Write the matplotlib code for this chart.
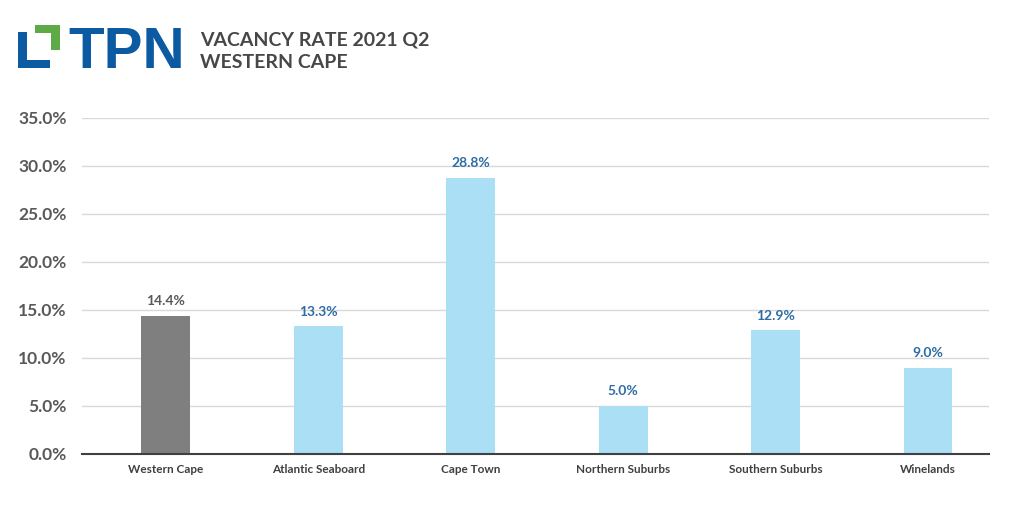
import matplotlib.pyplot as plt
from matplotlib.patches import Rectangle
import numpy as np

categories = ['Western Cape', 'Atlantic Seaboard', 'Cape Town',
              'Northern Suburbs', 'Southern Suburbs', 'Winelands']
values = [14.4, 13.3, 28.8, 5.0, 12.9, 9.0]
bar_colors = ['#7F7F7F', '#AADFF6', '#AADFF6', '#AADFF6', '#AADFF6', '#AADFF6']
label_colors = ['#595959', '#2E6CA4', '#2E6CA4', '#2E6CA4', '#2E6CA4', '#2E6CA4']
yticks = [0, 5, 10, 15, 20, 25, 30, 35]

plt.rcParams['font.family'] = ['Lato', 'DejaVu Sans']

fig = plt.figure(figsize=(10.24, 5.14), dpi=100)
W, H = 1024, 514
ax = fig.add_axes([82 / W, 1 - 454 / H, (989 - 82) / W, (454 - 118) / H])

x = np.arange(len(categories))
ax.bar(x, values, width=0.32, color=bar_colors, zorder=3)
for xi, v, c in zip(x, values, label_colors):
    ax.text(xi, v + 0.9, f'{v:.1f}%', ha='center', va='bottom',
            fontsize=10, fontweight='bold', color=c)

ax.set_xlim(-0.55, 5.4)
ax.set_ylim(0, 35)
ax.set_yticks(yticks)
ax.set_yticklabels([f'{t:.1f}%' for t in yticks])
ax.set_xticks(x)
ax.set_xticklabels(categories)
ax.tick_params(axis='y', length=0, labelsize=12.5, labelcolor='#595959', pad=11)
ax.tick_params(axis='x', length=0, labelsize=8.5, labelcolor='#404040', pad=7)
for lab in ax.get_xticklabels() + ax.get_yticklabels():
    lab.set_fontweight('bold')
ax.grid(axis='y', color='#D9D9D9', linewidth=1, zorder=0)
for s in ['top', 'right', 'left']:
    ax.spines[s].set_visible(False)
ax.spines['bottom'].set_color('#404040')
ax.spines['bottom'].set_linewidth(1.5)
ax.spines['bottom'].set_zorder(4)

# logo
def px_rect(x0, y0, x1, y1, color):
    fig.patches.append(Rectangle((x0 / W, 1 - y1 / H), (x1 - x0) / W, (y1 - y0) / H,
                                 transform=fig.transFigure, color=color, lw=0))

blue = '#0B5AA2'
green = '#5DAA46'
px_rect(18, 32, 27, 68, blue)
px_rect(18, 60, 50, 68, blue)
px_rect(35, 25, 60, 33, green)
px_rect(51, 25, 60, 50, green)
fig.text(68 / W, 1 - 68 / H, 'TPN', fontsize=42, fontweight='bold', color=blue,
         family='Liberation Sans', ha='left', va='baseline')

fig.text(200 / W, 1 - 45 / H, 'VACANCY RATE 2021 Q2', fontsize=14, fontweight='bold',
         color='#474747', ha='left', va='baseline')
fig.text(200 / W, 1 - 68 / H, 'WESTERN CAPE', fontsize=14, fontweight='bold',
         color='#474747', ha='left', va='baseline')

fig.savefig('out.png', dpi=100, facecolor='white')
